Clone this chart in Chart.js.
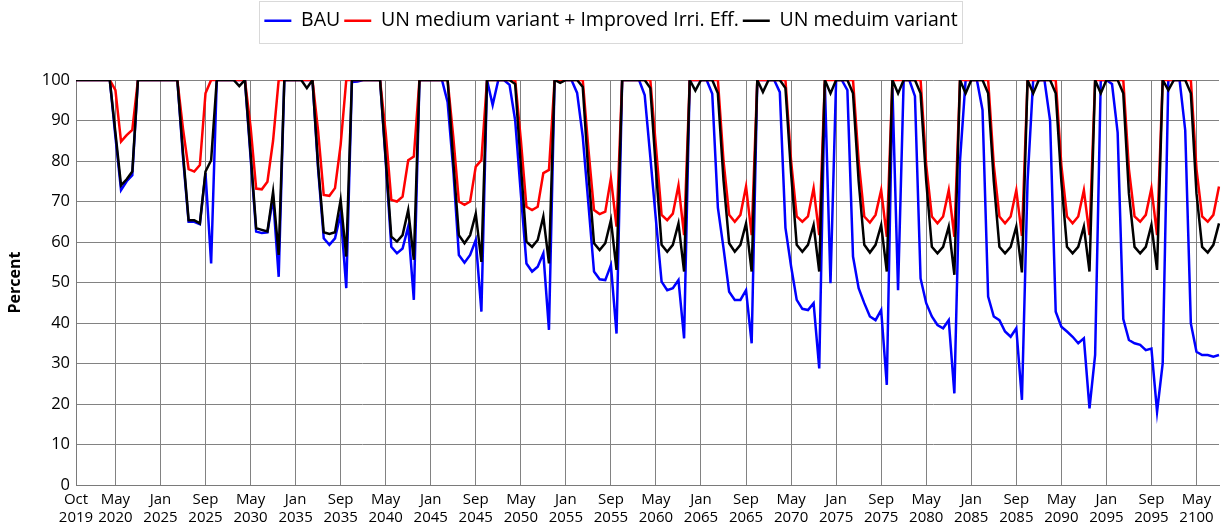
<!DOCTYPE html>
<html>
<head>
<meta charset="utf-8">
<title>Percent</title>
<script src="https://cdn.jsdelivr.net/npm/chart.js@4.4.1/dist/chart.umd.min.js"></script>
<style>
  html, body { margin: 0; padding: 0; background: #fff; }
</style>
</head>
<body>
<canvas id="percentChart" width="1225" height="529"></canvas>
<script>
// Monthly series: Oct-Dec 2019, then Jan-Dec of every fifth year, 2100 up to Sep
const monthNames = ['Jan', 'Feb', 'Mar', 'Apr', 'May', 'Jun', 'Jul', 'Aug', 'Sep', 'Oct', 'Nov', 'Dec'];
const fullYears = [2020, 2025, 2030, 2035, 2040, 2045, 2050, 2055, 2060, 2065, 2070, 2075, 2080, 2085, 2090, 2095];

const categories = ['Oct 2019', 'Nov 2019', 'Dec 2019'];
fullYears.forEach(y => monthNames.forEach(m => categories.push(m + ' ' + y)));
monthNames.slice(0, 9).forEach(m => categories.push(m + ' 2100'));

const bau = [
  100, 100, 100,
  100, 100, 100, 100, 86, 72.8, 75, 76.5, 100, 100, 100, 100,
  100, 100, 100, 100, 81, 65, 65, 64.4, 77, 54.7, 100, 100,
  100, 100, 100, 100, 81, 62.6, 62.2, 62.4, 71, 51.4, 100, 100,
  100, 100, 100, 100, 78, 60.9, 59.3, 60.9, 67, 48.6, 99.5, 99.6,
  100, 100, 100, 100, 80, 58.8, 57.2, 58.4, 63.8, 45.7, 100, 100,
  100, 100, 100, 94.5, 78, 56.8, 54.9, 56.8, 60.5, 42.8, 100, 93.8,
  100, 100, 98.8, 90, 72, 54.7, 52.7, 53.9, 57.2, 38.3, 100, 100,
  100, 100, 96.8, 86, 69.5, 52.7, 50.8, 50.6, 54.3, 37.4, 100, 100,
  100, 100, 96.3, 81, 65.4, 50.2, 48.1, 48.6, 50.6, 36.2, 100, 100,
  100, 100, 96.6, 68.5, 58.5, 47.7, 45.7, 45.7, 48.1, 35, 100, 100,
  100, 100, 97, 63.5, 54, 45.7, 43.5, 43.2, 44.9, 28.8, 99, 49.8,
  100, 100, 97.5, 56.4, 48.6, 44.9, 41.6, 40.7, 43.2, 24.7, 98, 48.1,
  100, 100, 96, 51, 44.9, 41.6, 39.5, 38.7, 40.7, 22.6, 80, 100,
  100, 100, 92.6, 46.5, 41.6, 40.7, 37.9, 36.6, 38.7, 21, 75, 100,
  100, 100, 90, 42.8, 39.1, 37.9, 36.6, 35, 36.2, 18.9, 32.1, 100,
  100, 99, 87, 41, 35.8, 35, 34.6, 33.3, 33.7, 18.1, 30, 100,
  100, 100, 87.6, 39.9, 32.9, 32.1, 32.1, 31.7, 32.1
];

const unImprovedIrri = [
  100, 100, 100,
  100, 100, 100, 100, 97.5, 84.8, 86.4, 87.7, 100, 100, 100, 100,
  100, 100, 100, 100, 88, 78, 77.4, 79, 96.7, 100, 100, 100,
  100, 100, 100, 100, 88.5, 73.2, 73, 74.9, 85, 100, 100, 100,
  100, 100, 100, 100, 87.4, 71.6, 71.4, 73.3, 84, 100, 100, 100,
  100, 100, 100, 100, 87, 70.4, 70, 71.2, 80.2, 81.1, 100, 100,
  100, 100, 100, 100, 86, 70, 69.2, 70, 78.6, 80.2, 100, 100,
  100, 100, 100, 100, 85.3, 68.7, 67.9, 68.7, 77, 77.8, 100, 100,
  100, 100, 100, 100, 83, 67.9, 66.9, 67.5, 75.7, 63.8, 100, 100,
  100, 100, 100, 100, 83.5, 66.7, 65.4, 67, 74, 61.7, 100, 100,
  100, 100, 100, 100, 80, 66.7, 65, 66.7, 73.7, 61.7, 100, 100,
  100, 100, 100, 100, 80, 66.3, 65, 66.3, 73.3, 61.7, 100, 100,
  100, 100, 100, 100, 80, 66.3, 64.8, 66.7, 72.8, 61.3, 100, 100,
  100, 100, 100, 100, 79, 66.3, 64.6, 66.3, 72.8, 61.3, 100, 100,
  100, 100, 100, 100, 79, 66.3, 64.6, 66.3, 72.8, 61.5, 100, 100,
  100, 100, 100, 100, 79, 66.3, 64.6, 66.3, 72.8, 61.7, 100, 100,
  100, 100, 100, 100, 78, 66.3, 65, 66.7, 73.3, 61.7, 100, 100,
  100, 100, 100, 100, 78, 66.3, 65, 66.7, 73.7
];

const unMedium = [
  100, 100, 100,
  100, 100, 100, 100, 87, 74, 75.5, 77.4, 100, 100, 100, 100,
  100, 100, 100, 100, 82, 65.4, 65.4, 64.6, 77.4, 80.2, 100, 100,
  100, 100, 98.5, 100, 82, 63.4, 63, 62.6, 72.4, 56.8, 100, 100,
  100, 100, 98, 100, 78.8, 62.4, 62, 62.4, 70.4, 56.4, 100, 100,
  100, 100, 100, 100, 80.7, 61.3, 60.1, 61.7, 67.9, 55.6, 100, 100,
  100, 100, 100, 100, 80, 61.7, 59.7, 61.7, 67, 55.1, 100, 100,
  100, 100, 100, 99, 79, 60.1, 58.8, 60.5, 66.3, 54.7, 100, 99.3,
  100, 100, 100, 98.3, 77, 59.7, 58, 59.7, 65.4, 53.1, 100, 100,
  100, 100, 100, 98, 77.8, 59.3, 57.6, 59.3, 64.6, 52.7, 100, 97.4,
  100, 100, 100, 96.7, 75.3, 59.7, 57.6, 59.3, 64.6, 52.7, 100, 97,
  100, 100, 100, 98, 77, 59.3, 57.6, 59.3, 64.2, 52.7, 100, 96.7,
  100, 100, 100, 96.7, 75, 59.3, 57.4, 59.3, 64.2, 52.7, 100, 96.7,
  100, 100, 100, 96.7, 75, 58.8, 57.2, 58.8, 63.8, 51.9, 100, 96.7,
  100, 100, 100, 96.7, 75, 58.8, 57.2, 58.8, 63.8, 52.5, 100, 96.7,
  100, 100, 100, 96.7, 75, 58.8, 57.2, 58.8, 63.8, 52.7, 100, 96.7,
  100, 100, 100, 96.7, 72, 58.8, 57.2, 58.8, 64.2, 53.1, 100, 97.5,
  100, 100, 100, 96.7, 72, 58.8, 57.4, 59.3, 64.6
];

const yTicks = { min: 0, max: 100, step: 10 };

const fontFamily = "'Open Sans', 'Noto Sans', sans-serif";
const gridColor = '#828282';
const axisColor = '#7a7a7a';

// x labels every 8 months, starting from Oct 2019 and May 2020
function isLabelled(i) {
  return i === 0 || (i + 1) % 8 === 0;
}

// push the plot down below the legend row
const legendSpacing = {
  id: 'legendSpacing',
  beforeInit(chart) {
    const fit = chart.legend.fit;
    chart.legend.fit = function () {
      fit.call(this);
      this.height = 73;
    };
  }
};

// thin grey frame around the legend entries
const legendFrame = {
  id: 'legendFrame',
  afterDraw(chart) {
    const boxes = chart.legend.legendHitBoxes;
    if (!boxes || !boxes.length) return;
    const left = Math.min(...boxes.map(b => b.left)) - 5;
    const right = Math.max(...boxes.map(b => b.left + b.width)) + 5;
    const c = chart.ctx;
    c.save();
    c.strokeStyle = '#d9d9d9';
    c.lineWidth = 1;
    c.strokeRect(Math.round(left) + 0.5, 1.5, Math.round(right - left), 42);
    c.restore();
  }
};

function lineSet(label, data, color, order) {
  return {
    label: label,
    data: data,
    borderColor: color,
    backgroundColor: color,
    borderWidth: 2.5,
    pointRadius: 0,
    pointHoverRadius: 0,
    pointStyle: 'line',
    tension: 0,
    fill: false,
    order: order
  };
}

new Chart(document.getElementById('percentChart'), {
  type: 'line',
  data: {
    labels: categories,
    datasets: [
      lineSet('BAU', bau, '#0000ff', 3),
      lineSet('UN medium variant + Improved Irri. Eff.', unImprovedIrri, '#ff0000', 2),
      lineSet('UN meduim variant', unMedium, '#000000', 1)
    ]
  },
  options: {
    responsive: false,
    animation: false,
    devicePixelRatio: 1,
    layout: { padding: { top: 7, right: 3, left: 0, bottom: 0 } },
    plugins: {
      legend: {
        position: 'top',
        labels: {
          usePointStyle: true,
          pointStyleWidth: 27,
          padding: 4,
          color: '#000',
          font: { family: fontFamily, size: 19.5 },
          sort: (a, b) => a.datasetIndex - b.datasetIndex
        }
      },
      tooltip: { enabled: false }
    },
    scales: {
      x: {
        type: 'category',
        offset: false,
        grid: {
          color: ctx => isLabelled(ctx.index) ? gridColor : 'rgba(0,0,0,0)',
          drawTicks: false
        },
        border: { color: axisColor },
        ticks: {
          autoSkip: false,
          maxRotation: 0,
          minRotation: 0,
          padding: 6,
          color: '#000',
          font: { family: fontFamily, size: 15 },
          callback: (value, index) => isLabelled(index) ? categories[index].split(' ') : ''
        },
        afterFit: s => { s.height = 44; }
      },
      y: {
        min: yTicks.min,
        max: yTicks.max,
        grid: { color: gridColor, drawTicks: false },
        border: { color: axisColor },
        ticks: {
          stepSize: yTicks.step,
          padding: 6,
          color: '#000',
          font: { family: fontFamily, size: 16.5 }
        },
        title: {
          display: true,
          text: 'Percent',
          color: '#000',
          font: { family: fontFamily, size: 16, weight: 'bold' },
          padding: { top: 6, bottom: 0 }
        },
        afterFit: s => { s.width = 76; }
      }
    }
  },
  plugins: [legendSpacing, legendFrame]
});
</script>
</body>
</html>
